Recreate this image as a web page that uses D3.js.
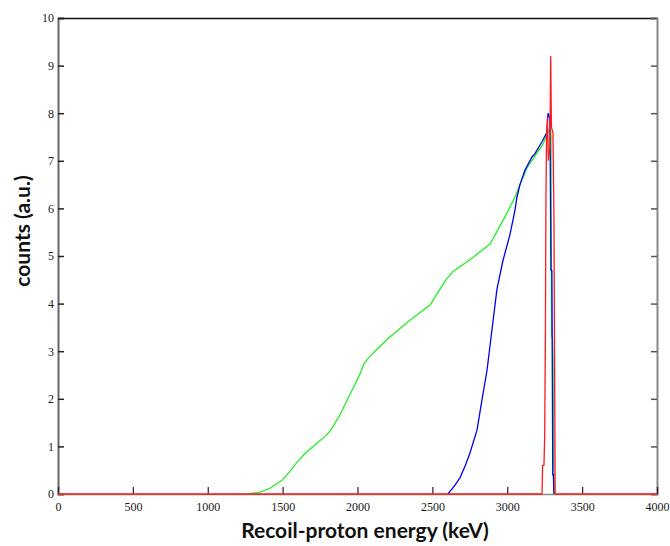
<!DOCTYPE html>
<html>
<head>
<meta charset="utf-8">
<script src="https://cdn.jsdelivr.net/npm/d3@7"></script>
<style>
  body { margin: 0; background: #fff; }
  .tick text { font-family: "Liberation Serif", serif; font-size: 12px; fill: #1a1a1a; }
  .title { font-family: Lato, "Liberation Sans", sans-serif; font-weight: bold; font-size: 21px; fill: #111; }
</style>
</head>
<body>
<div id="chart"></div>
<script>
var width = 670;
var height = 546;
var plotLeft = 58, plotTop = 18, plotRight = 657, plotBottom = 494;

// green spectrum
var greenEnergy = [1270, 1350, 1416, 1496, 1550, 1596, 1650, 1730, 1780, 1816, 1883, 1930, 1983, 2020, 2045, 2080, 2116, 2216, 2350, 2484, 2550, 2590, 2640, 2750, 2885, 2998, 3052, 3085, 3132, 3185, 3239, 3265, 3280, 3292, 3296, 3302, 3306, 3312];
var greenCounts = [0, 0.04, 0.12, 0.29, 0.48, 0.67, 0.85, 1.07, 1.2, 1.32, 1.66, 1.97, 2.3, 2.55, 2.75, 2.88, 3.0, 3.3, 3.65, 3.97, 4.3, 4.5, 4.68, 4.92, 5.25, 5.9, 6.24, 6.5, 6.85, 7.1, 7.35, 7.55, 7.65, 7.6, 3.3, 3.3, 2.8, 0];

// blue spectrum
var blueEnergy = [2604, 2650, 2684, 2720, 2751, 2798, 2831, 2865, 2898, 2931, 2971, 3018, 3052, 3065, 3085, 3118, 3165, 3185, 3232, 3265, 3272, 3285, 3292, 3298, 3304, 3308, 3312];
var blueCounts = [0, 0.18, 0.34, 0.6, 0.86, 1.34, 1.97, 2.6, 3.45, 4.3, 4.9, 5.45, 5.97, 6.24, 6.5, 6.8, 7.08, 7.15, 7.4, 7.6, 8.0, 7.9, 4.7, 4.7, 0.4, 0.4, 0];

// red spectrum
var redEnergy = [0, 3232, 3236, 3245, 3250, 3255, 3258, 3262, 3268, 3275, 3285, 3290, 3295, 3305, 3312, 3316, 3320, 4000];
var redCounts = [0, 0, 0.6, 0.6, 1.2, 3.5, 6.0, 7.4, 7.9, 7.0, 7.3, 9.2, 7.7, 7.6, 5.8, 2.8, 0, 0];

var xTicks = [0, 500, 1000, 1500, 2000, 2500, 3000, 3500, 4000];
var yTicks = [0, 1, 2, 3, 4, 5, 6, 7, 8, 9, 10];

var svg = d3.select("#chart").append("svg")
    .attr("width", width)
    .attr("height", height);

var xScale = d3.scaleLinear().domain([0, 4000]).range([plotLeft, plotRight]);
var yScale = d3.scaleLinear().domain([0, 10]).range([plotBottom, plotTop]);

// frame
svg.append("line")
    .attr("x1", plotLeft).attr("x2", plotRight)
    .attr("y1", plotTop + 0.5).attr("y2", plotTop + 0.5)
    .attr("stroke", "#111").attr("stroke-width", 1.5);

var yAxis = svg.append("g")
    .attr("transform", "translate(" + plotLeft + ",0)")
    .call(d3.axisLeft(yScale).tickValues(yTicks).tickSize(-6).tickPadding(4).tickFormat(d3.format("d")));
yAxis.select(".domain").attr("stroke", "#666").attr("stroke-width", 2);
yAxis.selectAll(".tick line").attr("stroke", "#222").attr("stroke-width", 1.5);

var rAxis = svg.append("g")
    .attr("transform", "translate(" + plotRight + ",0)")
    .call(d3.axisRight(yScale).tickValues(yTicks).tickSize(-6).tickFormat(""));
rAxis.select(".domain").attr("stroke", "#888").attr("stroke-width", 2);
rAxis.selectAll(".tick line").attr("stroke", "#555").attr("stroke-width", 1.5);

var xAxis = svg.append("g")
    .attr("transform", "translate(0," + plotBottom + ")")
    .call(d3.axisBottom(xScale).tickValues(xTicks).tickSize(-7).tickPadding(8).tickFormat(d3.format("d")));
xAxis.select(".domain").attr("stroke", "#888").attr("stroke-width", 1.5);
xAxis.selectAll(".tick line").attr("stroke", "#222").attr("stroke-width", 1.2);

// spectra
function toPoints(es, cs) {
    return es.map(function (e, i) { return [e, cs[i]]; });
}
var line = d3.line()
    .x(function (d) { return xScale(d[0]); })
    .y(function (d) { return yScale(d[1]); });

var series = [
    {pts: toPoints(greenEnergy, greenCounts), color: "#22ee22"},
    {pts: toPoints(blueEnergy, blueCounts), color: "#0000ee"},
    {pts: toPoints(redEnergy, redCounts), color: "#ff1a1a"}
];
svg.selectAll(".spec")
    .data(series).enter().append("path")
    .attr("class", "spec")
    .attr("d", function (d) { return line(d.pts); })
    .attr("fill", "none")
    .attr("stroke", function (d) { return d.color; })
    .attr("stroke-width", 1.3);

// titles
svg.append("text")
    .attr("class", "title")
    .attr("x", 365).attr("y", 538)
    .attr("text-anchor", "middle")
    .text("Recoil-proton energy (keV)");

svg.append("text")
    .attr("class", "title")
    .attr("transform", "translate(30,231) rotate(-90)")
    .attr("text-anchor", "middle")
    .text("counts (a.u.)");
</script>
</body>
</html>
